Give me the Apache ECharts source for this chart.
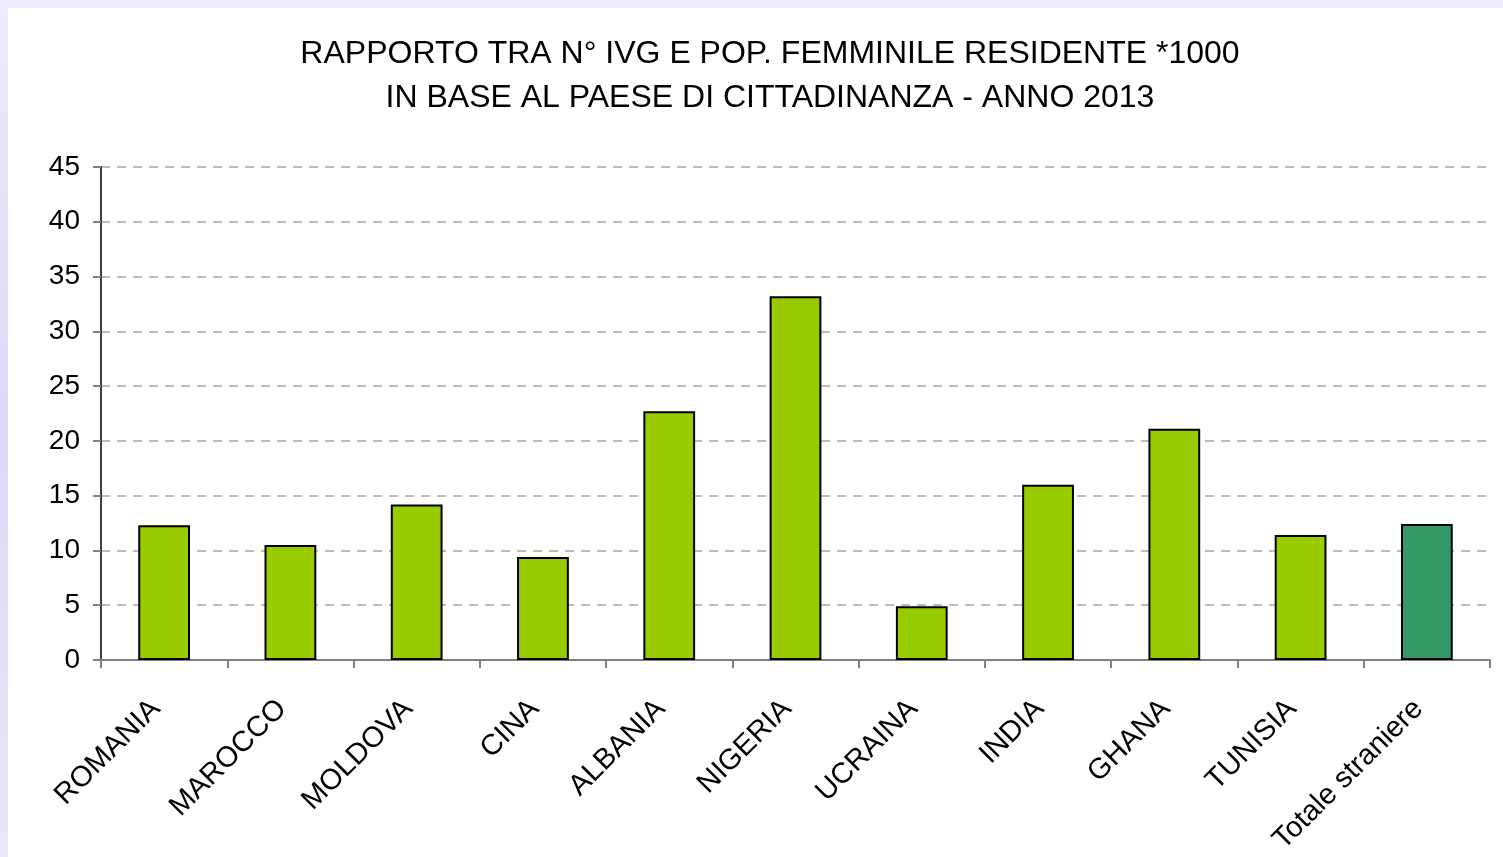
<!DOCTYPE html>
<html>
<head>
<meta charset="utf-8">
<script src="https://cdn.jsdelivr.net/npm/echarts@6/dist/echarts.min.js"></script>
<style>
  html, body {
    margin: 0;
    padding: 0;
    width: 1503px;
    height: 857px;
    overflow: hidden;
    background: linear-gradient(to bottom, #ececfd 0%, #dadaf8 50%, #e8e8fb 100%);
  }
  #chart {
    position: absolute;
    left: 8px;
    top: 8px;
    width: 1495px;
    height: 849px;
    background: #ffffff;
  }
</style>
</head>
<body>
<div id="chart"></div>
<script>
var categories = ["ROMANIA", "MAROCCO", "MOLDOVA", "CINA", "ALBANIA", "NIGERIA", "UCRAINA", "INDIA", "GHANA", "TUNISIA", "Totale straniere"];
var values = [12.3, 10.5, 14.2, 9.4, 22.7, 33.2, 4.9, 16.0, 21.1, 11.4, 12.4];
var yTicks = [0, 5, 10, 15, 20, 25, 30, 35, 40, 45];

var c1 = "#99cc00";  // paesi
var c2 = "#339966";  // totale

var chart = echarts.init(document.getElementById("chart"));

var option = {
  backgroundColor: "#ffffff",
  animation: false,
  title: {
    text: "RAPPORTO TRA N° IVG E POP. FEMMINILE RESIDENTE *1000\nIN BASE AL PAESE DI CITTADINANZA - ANNO 2013",
    left: 757,
    top: 19,
    textAlign: "center",
    textStyle: {
      fontFamily: "Liberation Sans",
      fontSize: 32,
      fontWeight: "normal",
      color: "#000",
      lineHeight: 44
    }
  },
  grid: {
    left: 93,
    right: 13,
    top: 159,
    bottom: 195,
    containLabel: false
  },
  xAxis: {
    type: "category",
    data: categories,
    axisLine: {
      show: true,
      lineStyle: { color: "#808080", width: 2 }
    },
    axisTick: {
      show: true,
      length: 8,
      lineStyle: { color: "#808080", width: 2 }
    },
    axisLabel: {
      interval: 0,
      rotate: 45,
      margin: 36,
      padding: [0, 12, 0, 0],
      fontFamily: "Liberation Sans",
      fontSize: 29,
      color: "#000"
    }
  },
  yAxis: {
    type: "value",
    min: 0,
    max: 45,
    interval: 5,
    axisLine: {
      show: true,
      lineStyle: { color: "#000", width: 1.5 }
    },
    axisTick: {
      show: true,
      length: 8,
      lineStyle: { color: "#808080", width: 2 }
    },
    splitLine: {
      show: true,
      lineStyle: { color: "#a6a6a6", type: [9, 7], width: 1.5 }
    },
    axisLabel: {
      margin: 21,
      fontFamily: "Liberation Sans",
      fontSize: 28,
      color: "#000",
      formatter: function (v) {
        return yTicks.indexOf(v) >= 0 ? String(v) : "";
      }
    }
  },
  series: [
    {
      type: "bar",
      barWidth: "41%",
      data: values.map(function (v, i) {
        return {
          value: v,
          itemStyle: { color: i === values.length - 1 ? c2 : c1 }
        };
      }),
      itemStyle: {
        borderColor: "#000",
        borderWidth: 2
      }
    }
  ]
};

chart.setOption(option);
</script>
</body>
</html>
